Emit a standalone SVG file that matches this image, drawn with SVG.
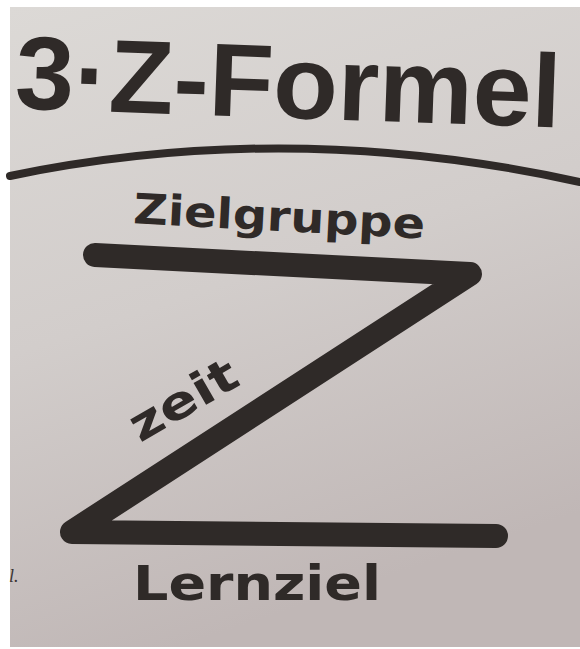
<svg xmlns="http://www.w3.org/2000/svg" width="580" height="649" viewBox="0 0 580 649">
<defs>
<linearGradient id="paper" x1="0" y1="0" x2="0.3" y2="1">
<stop offset="0" stop-color="#dcd9d6"/>
<stop offset="0.5" stop-color="#d2cdcb"/>
<stop offset="1" stop-color="#c0b7b6"/>
</linearGradient>
<style>
.ink{fill:#2f2a28;font-family:"DejaVu Sans","Liberation Sans",sans-serif;font-weight:bold}
.stroke{fill:none;stroke:#2f2a28;stroke-linecap:round;stroke-linejoin:round}
</style>
</defs>
<rect x="0" y="0" width="580" height="649" fill="#ffffff"/>
<rect x="10" y="7" width="570" height="640" fill="url(#paper)"/>
<g id="title">
<text class="ink" x="14" y="118" font-size="104" style="font-family:'Liberation Sans',Arial,sans-serif" textLength="546" lengthAdjust="spacingAndGlyphs" transform="rotate(2 290 118)">3·Z-Formel</text>
</g>
<g id="connectors">
<path class="stroke" d="M10 176 Q290 118 580 182" stroke-width="8"/>
<path class="stroke" d="M95 255 L470 274 L72 532 L496 536" stroke-width="24" stroke-linecap="butt"/>
</g>
<g id="zielgruppe">
<text class="ink" x="133" y="231" font-size="42" textLength="292" lengthAdjust="spacingAndGlyphs" transform="rotate(3 280 220)">Zielgruppe</text>
</g>
<g id="zeit">
<text class="ink" x="140" y="443" font-size="46" textLength="118" lengthAdjust="spacingAndGlyphs" transform="rotate(-30 140 443)">zeit</text>
</g>
<g id="lernziel">
<text class="ink" x="133" y="600" font-size="48" textLength="248" lengthAdjust="spacingAndGlyphs">Lernziel</text>
</g>
<g id="margin-note">
<text x="9" y="582" font-size="18" font-style="italic" fill="#3a3432" font-family="Liberation Serif, serif">l.</text>
</g>
</svg>
